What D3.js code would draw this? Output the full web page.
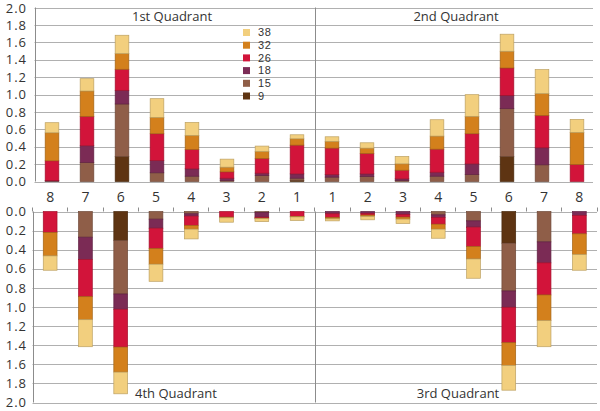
<!DOCTYPE html>
<html lang="en">
  <head>
    <meta charset="utf-8" />
    <title>Quadrant stacked bars</title>
    <script src="https://d3js.org/d3.v7.min.js"></script>
    <style type="text/css">
      body {
        margin: 0;
        background: #fff;
      }
      text {
        font-family: "Open Sans", sans-serif;
        fill: #333;
      }
      .grid line {
        stroke: #b0b0b0;
        stroke-width: 1;
      }
    </style>
  </head>
  <body>
    <script type="text/javascript">
      // series, bottom to top
      var series = ["9", "15", "18", "26", "32", "38"];
      var colors = ["#5e3412", "#8f5e48", "#7b2b55", "#d2143a", "#d3801c", "#f2cf7e"];

      var leftLabels = ["8", "7", "6", "5", "4", "3", "2", "1"];
      var rightLabels = ["1", "2", "3", "4", "5", "6", "7", "8"];
      var yTicks = [0, 0.2, 0.4, 0.6, 0.8, 1.0, 1.2, 1.4, 1.6, 1.8, 2.0];

      // 1st quadrant, bars 8..1, one row per series
      var q1 = [
        [0, 0, 0.288, 0, 0, 0, 0, 0.015],
        [0.005, 0.219, 0.603, 0.1, 0.061, 0.012, 0.069, 0.023],
        [0.005, 0.192, 0.157, 0.142, 0.085, 0.026, 0.027, 0.05],
        [0.228, 0.338, 0.242, 0.307, 0.223, 0.073, 0.169, 0.33],
        [0.322, 0.291, 0.18, 0.188, 0.161, 0.054, 0.08, 0.073],
        [0.116, 0.142, 0.211, 0.215, 0.149, 0.092, 0.062, 0.046]
      ];
      // 2nd quadrant, bars 1..8
      var q2 = [
        [0, 0, 0, 0, 0, 0.288, 0, 0],
        [0.05, 0.058, 0.012, 0.061, 0.081, 0.549, 0.192, 0],
        [0.03, 0.03, 0.019, 0.046, 0.122, 0.153, 0.196, 0],
        [0.304, 0.234, 0.099, 0.265, 0.346, 0.315, 0.372, 0.196],
        [0.077, 0.062, 0.073, 0.15, 0.2, 0.192, 0.25, 0.368],
        [0.053, 0.061, 0.085, 0.188, 0.249, 0.196, 0.276, 0.15]
      ];
      // 4th quadrant, bars 8..1
      var q4 = [
        [0, 0, 0.304, 0, 0, 0, 0, 0],
        [0, 0.269, 0.56, 0.08, 0.024, 0, 0.01, 0],
        [0, 0.234, 0.16, 0.095, 0.025, 0, 0.05, 0],
        [0.22, 0.389, 0.396, 0.213, 0.098, 0.059, 0.01, 0.052],
        [0.245, 0.241, 0.262, 0.164, 0.038, 0.007, 0.005, 0.005],
        [0.15, 0.283, 0.227, 0.179, 0.102, 0.046, 0.031, 0.037]
      ];
      // 3rd quadrant, bars 1..8
      var q3 = [
        [0, 0, 0, 0, 0, 0.332, 0, 0],
        [0, 0, 0, 0.035, 0.098, 0.5, 0.318, 0],
        [0.024, 0.02, 0.031, 0.028, 0.066, 0.171, 0.22, 0.042],
        [0.039, 0.018, 0.028, 0.07, 0.203, 0.371, 0.336, 0.192],
        [0.014, 0.014, 0.021, 0.052, 0.13, 0.238, 0.269, 0.217],
        [0.021, 0.035, 0.046, 0.095, 0.202, 0.259, 0.273, 0.164]
      ];

      var w = 600;
      var h = 411;

      var svg = d3
        .select("body")
        .append("svg")
        .attr("width", w)
        .attr("height", h);

      var color = d3.scaleOrdinal().domain(series).range(colors);
      var idx = d3.range(16);

      // upper panel
      var xTop = d3.scaleBand().domain(idx).range([34.5, 594.5]);
      var yTop = d3.scaleLinear().domain([0, 2]).range([181.5, 7.5]);
      // lower panel
      var xBot = d3.scaleBand().domain(idx).range([32.5, 597]);
      var yBot = d3.scaleLinear().domain([0, 2]).range([211.5, 402.5]);

      // turn the quadrant rows into stack tables (one row per bar)
      function table(left, right) {
        return idx.map(function (i) {
          var row = { i: i };
          series.forEach(function (s, k) {
            row[s] = i < 8 ? left[k][i] : right[k][i - 8];
          });
          return row;
        });
      }

      var stack = d3.stack().keys(series);

      function panel(x, y, data, x0, x1) {
        var g = svg.append("g");

        // gridlines
        g.append("g")
          .attr("class", "grid")
          .selectAll("line")
          .data(yTicks)
          .enter()
          .append("line")
          .attr("x1", x0)
          .attr("x2", x1)
          .attr("y1", function (d) {
            return Math.round(y(d)) + 0.5;
          })
          .attr("y2", function (d) {
            return Math.round(y(d)) + 0.5;
          });

        // y tick labels
        g.selectAll(".ylab")
          .data(yTicks)
          .enter()
          .append("text")
          .attr("class", "ylab")
          .attr("x", 27)
          .attr("y", function (d) {
            return Math.max(y(d), 8.5);
          })
          .attr("dy", "0.36em")
          .attr("text-anchor", "end")
          .style("font-size", "13px")
          .style("letter-spacing", "1px")
          .text(function (d) {
            return d.toFixed(1);
          });

        // axis and middle divider
        [x0, x(8)].forEach(function (px) {
          g.append("line")
            .attr("x1", Math.round(px) + 0.5)
            .attr("x2", Math.round(px) + 0.5)
            .attr("y1", Math.min(y(0), y(2)))
            .attr("y2", Math.max(y(0), y(2)))
            .attr("stroke", "#8c8c8c");
        });

        var bw = x.bandwidth() * 0.39;
        g.selectAll(".layer")
          .data(stack(data))
          .enter()
          .append("g")
          .attr("class", "layer")
          .attr("fill", function (d) {
            return color(d.key);
          })
          .attr("stroke", function (d) {
            return d3.color(color(d.key)).darker(0.7);
          })
          .attr("stroke-width", 0.7)
          .selectAll("rect")
          .data(function (d) {
            return d.filter(function (p) {
              return p[1] - p[0] > 0;
            });
          })
          .enter()
          .append("rect")
          .attr("x", function (d) {
            return x(d.data.i) + (x.bandwidth() - bw) / 2;
          })
          .attr("y", function (d) {
            return Math.min(y(d[0]), y(d[1]));
          })
          .attr("width", bw)
          .attr("height", function (d) {
            return Math.abs(y(d[1]) - y(d[0]));
          });
        return g;
      }

      panel(xTop, yTop, table(q1, q2), 34.5, 593);
      var bot = panel(xBot, yBot, table(q4, q3), 32.5, 597);

      // upward ticks on the lower panel's zero line
      bot.selectAll(".tick")
        .data(d3.range(17))
        .enter()
        .append("line")
        .attr("x1", function (d) {
          return Math.round(32 + d * xBot.bandwidth()) + 0.5;
        })
        .attr("x2", function (d) {
          return Math.round(32 + d * xBot.bandwidth()) + 0.5;
        })
        .attr("y1", yBot(0))
        .attr("y2", yBot(0) - 4)
        .attr("stroke", "#8c8c8c");

      // category labels between the panels
      svg.selectAll(".xlab")
        .data(idx)
        .enter()
        .append("text")
        .attr("class", "xlab")
        .attr("x", function (d) {
          return xBot(d) + xBot.bandwidth() / 2;
        })
        .attr("y", 197)
        .attr("dy", "0.36em")
        .attr("text-anchor", "middle")
        .style("font-size", "14px")
        .text(function (d) {
          return d < 8 ? leftLabels[d] : rightLabels[d - 8];
        });

      // quadrant titles
      var titles = [
        { t: "1st Quadrant", x: 172, y: 16, a: "middle" },
        { t: "2nd Quadrant", x: 456, y: 16, a: "middle" },
        { t: "4th Quadrant", x: 135, y: 393, a: "start" },
        { t: "3rd Quadrant", x: 458, y: 393, a: "middle" }
      ];
      svg.selectAll(".title")
        .data(titles)
        .enter()
        .append("text")
        .attr("class", "title")
        .attr("x", function (d) {
          return d.x;
        })
        .attr("y", function (d) {
          return d.y;
        })
        .attr("dy", "0.36em")
        .attr("text-anchor", function (d) {
          return d.a;
        })
        .style("font-size", "13px")
        .text(function (d) {
          return d.t;
        });

      // legend, top entry first
      var legend = svg
        .append("g")
        .selectAll("g")
        .data(series.slice().reverse())
        .enter()
        .append("g")
        .attr("transform", function (d, i) {
          return "translate(243," + (32.5 + i * 12.7) + ")";
        });
      legend
        .append("rect")
        .attr("x", 0)
        .attr("y", -3.5)
        .attr("width", 7)
        .attr("height", 7)
        .attr("fill", function (d) {
          return color(d);
        });
      legend
        .append("text")
        .attr("x", 15)
        .attr("dy", "0.35em")
        .style("font-family", "'Liberation Sans', sans-serif")
        .style("font-size", "11px")
        .style("letter-spacing", "0.6px")
        .text(function (d) {
          return d;
        });
    </script>
  </body>
</html>
